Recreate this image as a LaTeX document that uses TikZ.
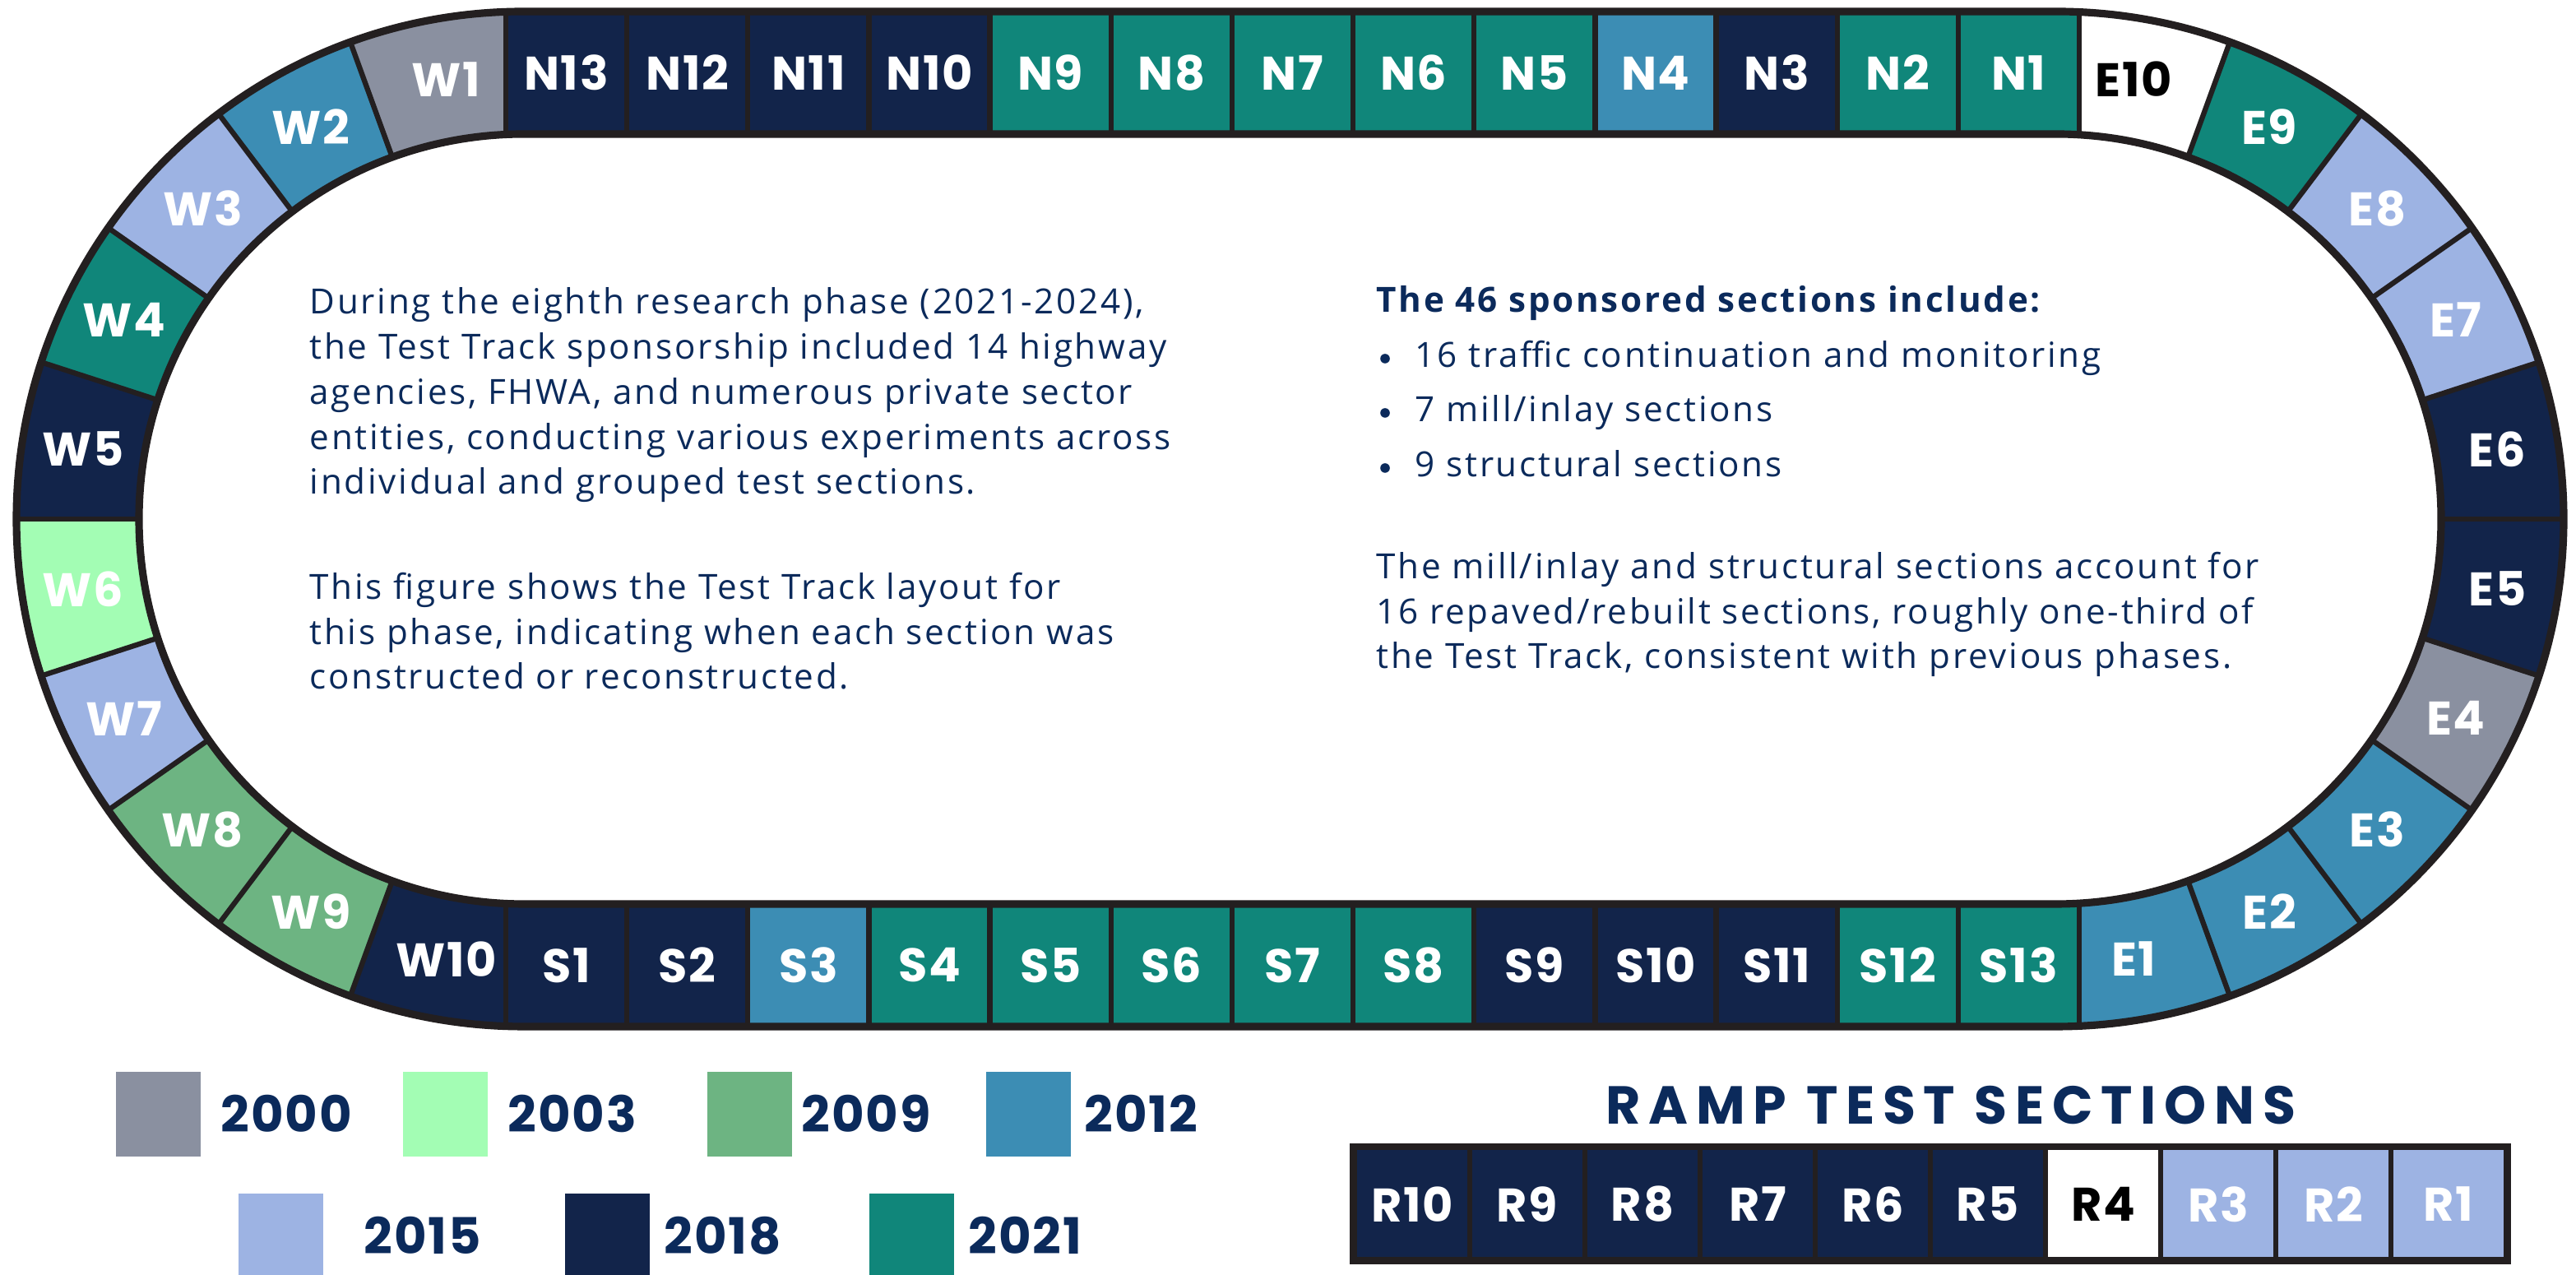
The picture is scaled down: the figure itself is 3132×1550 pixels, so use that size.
\documentclass[tikz,border=0pt]{standalone}
\usepackage{fontspec}
\setmainfont{Open Sans}[LetterSpace=6.5]
\newfontfamily\lblfont{Poppins}[LetterSpace=3]
\newfontfamily\titlefont{Poppins}[LetterSpace=15]
\usetikzlibrary{calc}

% construction years
\definecolor{yrA}{HTML}{8A90A0} % 2000
\definecolor{yrB}{HTML}{A3FDB4} % 2003
\definecolor{yrC}{HTML}{6DB482} % 2009
\definecolor{yrD}{HTML}{3C8DB4} % 2012
\definecolor{yrE}{HTML}{9DB3E3} % 2015
\definecolor{yrF}{HTML}{12244A} % 2018
\definecolor{yrG}{HTML}{10867A} % 2021
\definecolor{ink}{HTML}{0B2A5B}
\definecolor{rimc}{HTML}{231F20}

\begin{document}
\begin{tikzpicture}[x=0.1mm,y=0.1mm,
  rim/.style={draw=rimc,line width=2.6pt},
  divider/.style={draw=rimc,line width=1.8pt},
  lbl/.style={font=\lblfont\bfseries\fontsize{16.3}{18}\selectfont,text=white,inner sep=0pt},
  legtext/.style={font=\lblfont\bfseries\fontsize{17.3}{19}\selectfont,text=ink,inner sep=0pt,anchor=west},
  body/.style={font=\fontsize{12}{15.6}\selectfont,text=ink,align=left,inner sep=0pt,anchor=base west},
  dot/.style={circle,fill=ink,inner sep=0pt,minimum size=3.3pt}]
\useasboundingbox (0,0) rectangle (3132,1550);
\coordinate (CL) at (637,919);
\coordinate (CR) at (2500,919);

% curved ends, west and east
\foreach \p/\a/\b/\c/\t/\tc in {L/90/110/yrA/W1/white, L/110/127/yrD/W2/white, L/127/145/yrE/W3/white,
    L/145/162/yrG/W4/white, L/162/180/yrF/W5/white, L/180/198/yrB/W6/white, L/198/215/yrE/W7/white,
    L/215/233/yrC/W8/white, L/233/250/yrC/W9/white, L/250/270/yrF/W10/white,
    R/90/70/white/E10/black, R/70/53/yrG/E9/white, R/53/35/yrE/E8/white, R/35/18/yrE/E7/white,
    R/18/0/yrF/E6/white, R/0/-18/yrF/E5/white, R/-18/-35/yrA/E4/white, R/-35/-53/yrD/E3/white,
    R/-53/-70/yrD/E2/white, R/-70/-90/yrD/E1/white}{
  \fill[\c] ($(C\p)+(\a:468)$) arc[start angle=\a,end angle=\b,radius=468]
    -- ($(C\p)+(\b:617)$) arc[start angle=\b,end angle=\a,radius=617] -- cycle;
  \node[lbl,text=\tc] (\t) at ($(C\p)+({(\a+\b)/2}:543)$) {\t};
}

% north straight
\foreach \c/\t [count=\k from 0] in {yrF/N13, yrF/N12, yrF/N11, yrF/N10, yrG/N9, yrG/N8, yrG/N7,
    yrG/N6, yrG/N5, yrD/N4, yrF/N3, yrG/N2, yrG/N1}{
  \fill[\c] ({615+147.15*\k},1387) rectangle ++(147.15,149);
  \node[lbl] (\t) at ({615+147.15*(\k+0.5)},1461.5) {\t};
}
% south straight
\foreach \c/\t [count=\k from 0] in {yrF/S1, yrF/S2, yrD/S3, yrG/S4, yrG/S5, yrG/S6, yrG/S7,
    yrG/S8, yrF/S9, yrF/S10, yrF/S11, yrG/S12, yrG/S13}{
  \fill[\c] ({615+147.15*\k},302) rectangle ++(147.15,149);
  \node[lbl] (\t) at ({615+147.15*(\k+0.5)},376.5) {\t};
}

% section joints
\foreach \k in {0,...,13}{
  \draw[divider] ({615+147.15*\k},1387) -- ++(0,149);
  \draw[divider] ({615+147.15*\k},302) -- ++(0,149);
}
\foreach \p/\a in {L/110, L/127, L/145, L/162, L/180, L/198, L/215, L/233, L/250,
    R/70, R/53, R/35, R/18, R/0, R/-18, R/-35, R/-53, R/-70}
  \draw[divider] ($(C\p)+(\a:468)$) -- ($(C\p)+(\a:617)$);

% track edges
\draw[rim] (637,1536) -- (2500,1536) arc[start angle=90,end angle=-90,radius=617]
  -- (637,302) arc[start angle=270,end angle=90,radius=617] -- cycle;
\draw[rim] (637,1387) -- (2500,1387) arc[start angle=90,end angle=-90,radius=468]
  -- (637,451) arc[start angle=270,end angle=90,radius=468] -- cycle;

% infield text (multi-line nodes sit on their last baseline)
\node[body] (intro) at (376,949) {During the eighth research phase (2021-2024),\\
  the Test Track sponsorship included 14 highway\\
  agencies, FHWA, and numerous private sector\\
  entities, conducting various experiments across\\
  individual and grouped test sections.};
\node[body] (layout) at (376,712) {This figure shows the Test Track layout for\\
  this phase, indicating when each section was\\
  constructed or reconstructed.};
\node[body,font=\bfseries\fontsize{12}{15.6}\selectfont] (head) at (1673,1170) {The 46 sponsored sections include:};
\node[dot] (dot1) at (1684,1114) {};
\node[body] (item1) at (1720,1103) {16 traffic continuation and monitoring};
\node[dot] (dot2) at (1684,1048) {};
\node[body] (item2) at (1720,1037) {7 mill/inlay sections};
\node[dot] (dot3) at (1684,981) {};
\node[body] (item3) at (1720,970) {9 structural sections};
\node[body] (share) at (1673,737) {The mill/inlay and structural sections account for\\
  16 repaved/rebuilt sections, roughly one-third of\\
  the Test Track, consistent with previous phases.};

% legend
\foreach \bx/\tx/\y/\c/\yr in {141/268/144/yrA/2000, 490/617/144/yrB/2003, 860/974/144/yrC/2009,
    1199/1318/144/yrD/2012, 290/442/-4/yrE/2015, 687/807/-4/yrF/2018, 1057/1177/-4/yrG/2021}{
  \fill[\c] (\bx,\y) rectangle ++(103,103);
  \node[legtext] (y\yr) at (\tx,\y+52) {\yr};
}

% ramp sections
\node[font=\titlefont\bfseries\fontsize{18.5}{20}\selectfont,text=ink] (ramp) at (2372,206) {RAMP TEST SECTIONS};
\fill[rimc] (1641,13) rectangle (3053,160);
\foreach \c/\t/\tc [count=\k from 0] in {yrF/R10/white, yrF/R9/white, yrF/R8/white, yrF/R7/white,
    yrF/R6/white, yrF/R5/white, white/R4/black, yrE/R3/white, yrE/R2/white, yrE/R1/white}{
  \fill[\c] ({1647+140*\k+3},22) rectangle ({1647+140*(\k+1)-3},152);
  \node[lbl,text=\tc] (\t) at ({1647+140*(\k+0.5)},86) {\t};
}
\end{tikzpicture}
\end{document}
